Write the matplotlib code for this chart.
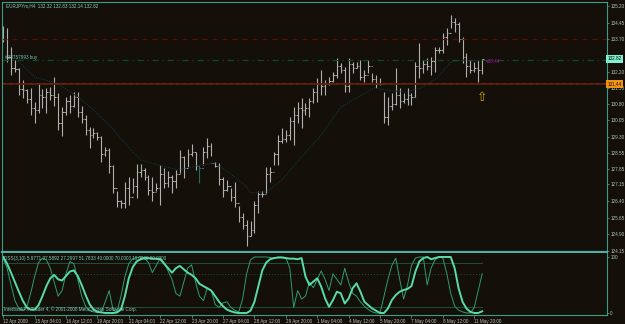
import matplotlib
matplotlib.use('Agg')
import matplotlib.pyplot as plt
import numpy as np

# ---- price data (EURJPYm, H4) ----
highs = [134.30, 134.19, 133.37, 132.76, 132.39, 131.86, 131.44, 131.49, 130.89, 131.74,
         131.44, 131.49, 131.53, 131.98, 131.26, 130.66, 131.11, 131.19, 131.34, 131.34,
         130.69, 130.28, 129.76, 129.68, 129.53, 129.34, 128.86, 128.78, 128.03, 126.83,
         126.45, 127.28, 127.50, 127.43, 128.06, 128.06, 127.88, 127.58, 127.50, 127.20,
         128.03, 127.88, 127.77, 127.58, 127.80, 128.71, 128.41, 128.74, 128.98, 128.63,
         128.03, 128.86, 129.23, 129.01, 128.14, 128.11, 127.50, 127.35, 126.98, 127.28,
         126.18, 125.85, 125.55, 125.48, 126.38, 126.83, 126.83, 127.95, 127.95, 128.63,
         129.38, 129.68, 129.61, 130.21, 130.66, 130.89, 131.04, 130.81, 131.04, 131.49,
         131.94, 132.31, 131.86, 132.01, 132.24, 132.84, 132.61, 132.46, 132.84, 132.69,
         132.69, 132.76, 132.31, 132.76, 132.16, 132.09, 131.94, 131.34, 131.11, 131.26,
         132.39, 131.49, 131.26, 131.49, 131.26, 132.69, 133.52, 132.76, 132.84, 132.91,
         133.37, 133.37, 133.97, 134.19, 134.79, 134.64, 134.49, 133.82, 133.07, 132.76,
         132.69, 132.76, 132.83]
lows = [133.59, 132.69, 132.09, 132.24, 131.19, 131.04, 130.81, 130.28, 129.91, 130.36,
        130.59, 130.36, 130.96, 130.69, 129.61, 129.34, 130.28, 130.36, 130.66, 130.21,
        129.91, 129.38, 128.78, 129.23, 129.16, 128.14, 128.41, 127.65, 126.78, 126.15,
        126.07, 126.07, 126.23, 126.75, 126.53, 127.50, 127.35, 126.68, 126.38, 126.83,
        126.20, 126.98, 127.05, 126.78, 126.98, 127.65, 127.43, 127.95, 128.41, 127.80,
        127.23, 128.03, 128.33, 128.41, 127.95, 127.13, 126.60, 126.83, 126.38, 126.15,
        125.47, 125.13, 124.35, 124.80, 124.95, 125.85, 126.60, 126.75, 127.28, 128.03,
        128.03, 129.01, 129.08, 129.16, 128.93, 129.91, 129.68, 130.28, 130.21, 130.81,
        130.89, 131.19, 131.19, 131.64, 131.79, 131.94, 132.16, 131.34, 131.34, 132.16,
        132.39, 131.86, 131.79, 132.16, 131.79, 131.49, 131.64, 129.91, 129.83, 130.51,
        130.74, 130.59, 130.81, 130.74, 130.74, 131.11, 131.94, 132.16, 132.31, 132.09,
        132.24, 133.07, 133.07, 133.44, 134.19, 134.04, 133.59, 132.61, 132.01, 132.16,
        132.24, 131.79, 132.14]
closes = [133.70, 132.90, 132.40, 132.35, 131.45, 131.40, 131.00, 130.60, 130.50, 131.20,
          131.10, 131.30, 131.20, 131.10, 129.90, 130.40, 130.90, 130.70, 131.10, 130.40,
          130.10, 129.60, 129.40, 129.45, 129.30, 128.50, 128.70, 128.00, 127.00, 126.40,
          126.30, 127.00, 126.60, 127.10, 127.70, 127.80, 127.50, 126.90, 126.80, 127.00,
          127.60, 127.20, 127.50, 127.30, 127.60, 128.40, 127.90, 128.50, 128.60, 128.00,
          127.90, 128.60, 128.90, 128.10, 128.00, 127.40, 126.90, 127.10, 126.60, 126.30,
          125.70, 125.30, 124.80, 125.10, 126.20, 126.70, 126.70, 127.60, 127.70, 128.50,
          129.10, 129.20, 129.40, 130.00, 130.30, 130.60, 130.50, 130.60, 130.90, 131.30,
          131.70, 131.60, 131.70, 131.80, 132.10, 132.50, 132.30, 131.60, 132.60, 132.40,
          132.50, 132.00, 132.10, 132.50, 131.90, 131.70, 131.70, 130.20, 130.70, 130.80,
          131.20, 130.90, 131.00, 131.20, 131.10, 132.50, 132.40, 132.60, 132.50, 132.70,
          133.20, 133.20, 133.80, 134.00, 134.50, 134.40, 133.70, 132.90, 132.50, 132.30,
          132.40, 132.32, 132.82]
first_open = 134.20

# moving average vertices (bar index, price)
ma_bars = [3, 8, 13.5, 19, 23, 27.5, 32, 35, 39.5, 44.5, 50.5, 54, 59, 62, 63, 67, 71,
           76, 81, 86, 90.5, 94.5, 97.5, 102.5, 106.5, 110.5, 114, 117, 122]
ma_vals = [132.85, 131.99, 131.73, 131.10, 130.51, 129.74, 128.80, 128.25, 128.03, 127.80,
           128.03, 128.12, 127.49, 127.04, 126.77, 126.81, 127.35, 128.39, 129.38, 130.64,
           131.10, 131.50, 131.41, 131.32, 131.50, 131.95, 132.67, 132.76, 132.72]

# ---- DSS sub window ----
dss_main = [100, 88, 72, 55, 38, 22, 10, 6, 6, 14, 30, 48, 62, 68, 60, 58, 66, 74, 76, 66,
            50, 32, 16, 6, 2, 1, 0, 0, 0, 1, 6, 30, 62, 82, 92, 96, 98, 98, 97, 97,
            96, 88, 80, 72, 80, 84, 78, 72, 68, 62, 52, 48, 44, 40, 30, 20, 12, 6, 3, 1,
            0, 0, 0, 4, 20, 48, 76, 90, 96, 98, 99, 99, 98, 97, 97, 96, 98, 65, 50, 56,
            62, 47, 26, 11, 23, 38, 35, 17, 26, 44, 53, 38, 20, 14, 8, 4, 0, 0, 8, 23,
            32, 38, 41, 43, 48, 74, 92, 98, 100, 96, 98, 100, 100, 100, 100, 80, 44, 20, 8, 2,
            0, 0, 3]
dss_signal = [98, 80, 50, 22, 8, 4, 10, 35, 65, 90, 98, 95, 80, 55, 30, 40, 70, 92, 88, 60,
              30, 12, 4, 2, 1, 2, 20, 40, 5, 2, 30, 65, 88, 97, 99, 100, 98, 90, 72, 85,
              98, 90, 75, 60, 35, 30, 55, 80, 86, 55, 30, 22, 45, 40, 15, 10, 18, 20, 10, 5,
              2, 25, 70, 95, 100, 100, 100, 100, 99, 98, 100, 100, 99, 80, 10, 40, 25, 30, 55, 45,
              60, 75, 60, 40, 70, 60, 50, 80, 55, 35, 30, 20, 12, 6, 2, 0, 0, 30, 60, 85,
              98, 60, 25, 50, 85, 98, 100, 100, 50, 80, 95, 100, 98, 70, 35, 12, 5, 2, 0, 0,
              10, 40, 70]
levels = [90, 70, 10]

price_ticks = [135.20, 134.45, 133.70, 132.95, 132.20, 131.50, 130.80, 130.05, 129.30,
               128.55, 127.85, 127.15, 126.40, 125.65, 124.90, 124.15]
date_bars = [0, 8, 16, 24, 32, 40, 48, 56, 64, 72, 80, 88, 96, 104, 112, 120]
date_labels = ['12 Apr 2009', '15 Apr 04:00', '16 Apr 12:00', '19 Apr 20:00', '21 Apr 04:00',
               '22 Apr 12:00', '23 Apr 20:00', '27 Apr 04:00', '28 Apr 12:00', '29 Apr 20:00',
               '1 May 04:00', '4 May 12:00', '5 May 20:00', '7 May 04:00', '8 May 12:00',
               '11 May 20:00']

BG = '#140f08'
TEAL = '#3c9c8a'
TXT = '#b9c4bf'
FONT = 'Liberation Sans'
FS = 3.3

W, H = 625, 324
fig = plt.figure(figsize=(W / 100, H / 100), dpi=100, facecolor=BG)


def px_axes(x0, y0, x1, y1):
    return fig.add_axes([x0 / W, 1 - y1 / H, (x1 - x0) / W, (y1 - y0) / H])


xlim = (-0.3, 153.8)

# ---------- main price window ----------
ax = px_axes(2, 2, 607, 252)
ax.set_facecolor(BG)
ax.set_xlim(*xlim)
ax.set_ylim(124.10, 135.38)

n = len(highs)
idx = np.arange(n)
opens = [first_open] + closes[:-1]
opens[-1] = 132.32
bar_cols = ['#b0b0b0'] * n
bar_cols[50] = '#1d6e62'
ax.vlines(idx, lows, highs, colors=bar_cols, lw=0.8)
ax.hlines(opens, idx - 0.4, idx, colors=bar_cols, lw=0.7)
ax.hlines(closes, idx, idx + 0.4, colors=bar_cols, lw=0.7)

ax.plot(ma_bars, ma_vals, color='#103840', lw=0.8, ls=(0, (1, 1)))

# order / level lines
ax.axhline(133.71, color='#5e0c0c', lw=0.9, ls=(0, (4, 4)))
ax.axhline(132.77, color='#0d4a2a', lw=0.9, ls=(0, (5, 3, 1, 3)))
ax.axhline(131.66, color='#4e2610', lw=1.3)
ax.axhline(131.72, color='#8a1414', lw=0.8, ls=(0, (3, 3)))

ax.text(0.006, 0.993, 'EURJPYm,H4  132.32 132.83 132.14 132.82', transform=ax.transAxes,
        color='#7fcfbd', fontsize=FS, family=FONT, va='top', ha='left')
ax.text(0.5, 132.86, '#38757993 buy', color='#72c8b6', fontsize=FS, family=FONT,
        va='center', ha='left')
ax.text(123.0, 132.70, '+38.44', color='#b418b4', fontsize=FS, family=FONT,
        va='center', ha='left')
ax.text(122.0, 131.08, '\u21e7', color='#d6a500', fontsize=9, family='DejaVu Sans',
        ha='center', va='center')

ax.yaxis.tick_right()
ax.set_yticks(price_ticks)
# 132.95 sits under the bid label box, so its text is left blank
ax.set_yticklabels(['' if t == 132.95 else '%.2f' % t for t in price_ticks])
ax.tick_params(axis='y', colors=TEAL, labelcolor=TXT, labelsize=FS, length=1.5, width=0.6, pad=0.8)
for lab in ax.get_yticklabels():
    lab.set_family(FONT)
ax.set_xticks([])

ax.text(1.001, 132.82, '132.82', transform=ax.get_yaxis_transform(), color='black',
        fontsize=FS, family=FONT, va='center', ha='left', zorder=5,
        bbox=dict(boxstyle='square,pad=0.35', fc='#7ff0d0', ec='none'))
ax.text(1.001, 131.68, '131.44', transform=ax.get_yaxis_transform(), color='#201000',
        fontsize=FS, family=FONT, va='center', ha='left', zorder=5,
        bbox=dict(boxstyle='square,pad=0.35', fc='#f09214', ec='none'))

for s in ['left', 'top', 'right']:
    ax.spines[s].set_color(TEAL)
    ax.spines[s].set_linewidth(0.8)
ax.spines['bottom'].set_color('#4fb2a0')
ax.spines['bottom'].set_linewidth(1.6)

# ---------- DSS window ----------
ax2 = px_axes(2, 253, 607, 315)
ax2.set_facecolor(BG)
ax2.set_xlim(*xlim)
ax2.set_ylim(-3.6, 107.1)
for lv in levels:
    ax2.plot(idx, [lv] * n, color='#1d5238', lw=0.7, ls='-' if lv != 70 else (0, (1, 2)))
ax2.plot(idx, dss_signal, color='#2f9c74', lw=0.7)
ax2.plot(idx, dss_main, color='#56dca6', lw=1.4)

ax2.text(0.004, 0.95, 'DSS(3,10) 5.9771 37.5892 27.2997 51.7833 40.0000 70.0000 10.0000 90.0000',
         transform=ax2.transAxes, color='#7fcfbd', fontsize=FS, family=FONT, va='top')
ax2.text(0.004, 0.05, 'InterbankFX Trader 4, \u00a9 2001-2008 MetaQuotes Software Corp.',
         transform=ax2.transAxes, color='#7fcfbd', fontsize=FS, family=FONT, va='bottom')

ax2.yaxis.tick_right()
ax2.set_yticks([100, 0])
ax2.set_yticklabels(['100', '0'])
ax2.tick_params(axis='y', colors=TEAL, labelcolor=TXT, labelsize=FS, length=1.5, width=0.6, pad=0.8)
ax2.set_xticks(date_bars)
ax2.set_xticklabels(date_labels)
ax2.tick_params(axis='x', colors=TEAL, labelcolor=TXT, labelsize=FS, length=2.5, width=0.6, pad=0.5)
for lab in ax2.get_xticklabels() + ax2.get_yticklabels():
    lab.set_family(FONT)
for lab in ax2.get_xticklabels():
    lab.set_horizontalalignment('left')
for s in ax2.spines.values():
    s.set_color(TEAL)
    s.set_linewidth(0.8)
ax2.spines['top'].set_visible(False)

fig.savefig('out.png', dpi=100, facecolor=BG)
